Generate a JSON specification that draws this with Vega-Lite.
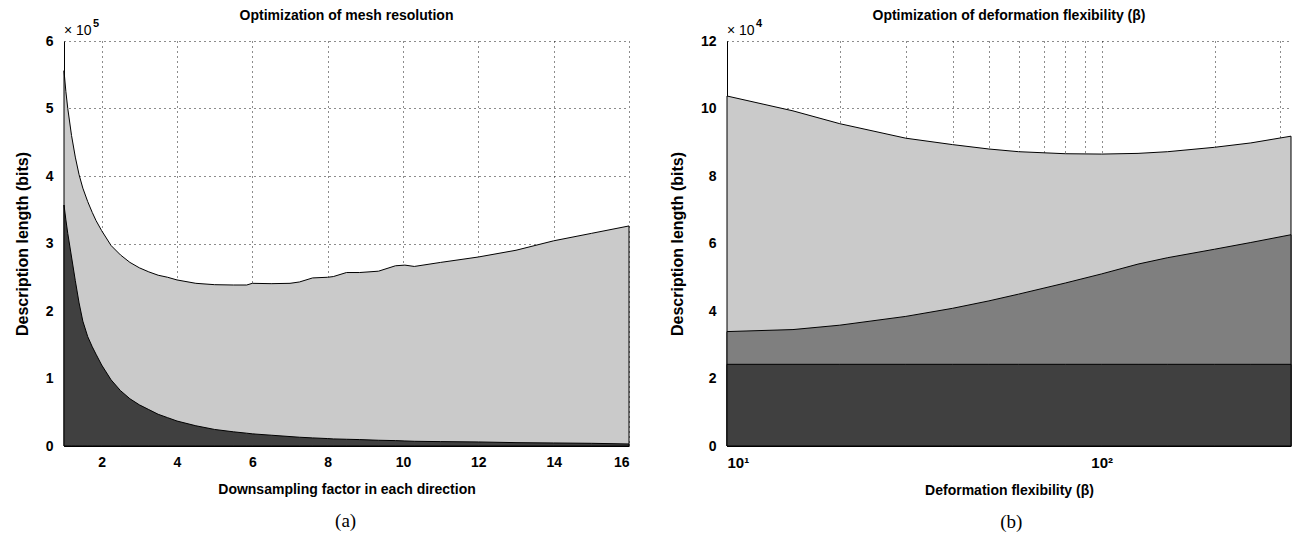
{
  "$schema": "https://vega.github.io/schema/vega-lite/v6.json",
  "padding": {"left": 14, "top": 9, "right": 0, "bottom": 0},
  "background": "white",
  "spacing": 38,
  "config": {
    "view": {"stroke": null},
    "axis": {
      "domainColor": "#000", "domainWidth": 1, "ticks": false,
      "labelFont": "Liberation Sans", "labelFontSize": 14, "labelFontWeight": "bold", "labelColor": "#000",
      "titleFont": "Liberation Sans", "titleFontSize": 14, "titleFontWeight": "bold", "titleColor": "#000",
      "grid": true, "gridColor": "#000", "gridDash": [1, 4], "gridWidth": 1, "gridOpacity": 0.9
    },
    "axisX": {"labelPadding": 9, "titlePadding": 13},
    "axisY": {"labelPadding": 11, "titlePadding": 15, "titleFontSize": 16},
    "title": {"font": "Liberation Sans", "fontSize": 14, "fontWeight": "bold", "color": "#000"}
  },
  "datasets": {
    "mesh": [
      {"factor": 1, "total": 556000, "lower": 357000},
      {"factor": 1.05, "total": 525000, "lower": 335000},
      {"factor": 1.1, "total": 500000, "lower": 315000},
      {"factor": 1.2, "total": 460000, "lower": 280000},
      {"factor": 1.3, "total": 428000, "lower": 245000},
      {"factor": 1.4, "total": 402000, "lower": 212000},
      {"factor": 1.5, "total": 382000, "lower": 185000},
      {"factor": 1.63, "total": 362000, "lower": 162000},
      {"factor": 1.75, "total": 346000, "lower": 147000},
      {"factor": 1.85, "total": 334000, "lower": 136000},
      {"factor": 2.0, "total": 319000, "lower": 120000},
      {"factor": 2.25, "total": 297000, "lower": 98000},
      {"factor": 2.5, "total": 283000, "lower": 82000},
      {"factor": 2.75, "total": 272000, "lower": 70000},
      {"factor": 3.0, "total": 264000, "lower": 61000},
      {"factor": 3.25, "total": 258000, "lower": 54000},
      {"factor": 3.5, "total": 253000, "lower": 47000},
      {"factor": 3.75, "total": 250000, "lower": 42000},
      {"factor": 4.0, "total": 246000, "lower": 37000},
      {"factor": 4.5, "total": 241000, "lower": 30000},
      {"factor": 5.0, "total": 239000, "lower": 24500},
      {"factor": 5.5, "total": 238500, "lower": 21000},
      {"factor": 5.85, "total": 238500, "lower": 19000},
      {"factor": 6.0, "total": 241000, "lower": 18000},
      {"factor": 6.5, "total": 240500, "lower": 16000},
      {"factor": 7.0, "total": 241000, "lower": 14000},
      {"factor": 7.25, "total": 243000, "lower": 13000},
      {"factor": 7.6, "total": 249000, "lower": 12000},
      {"factor": 8.0, "total": 250000, "lower": 11000},
      {"factor": 8.15, "total": 251000, "lower": 10500},
      {"factor": 8.5, "total": 257000, "lower": 10000},
      {"factor": 8.85, "total": 257000, "lower": 9500},
      {"factor": 9.35, "total": 259000, "lower": 8500},
      {"factor": 9.8, "total": 267000, "lower": 8000},
      {"factor": 10.05, "total": 268000, "lower": 7500},
      {"factor": 10.3, "total": 266000, "lower": 7000},
      {"factor": 11, "total": 272000, "lower": 6500},
      {"factor": 12, "total": 280000, "lower": 6000},
      {"factor": 13, "total": 290000, "lower": 5000},
      {"factor": 14, "total": 304000, "lower": 4500},
      {"factor": 15, "total": 315000, "lower": 4000},
      {"factor": 16, "total": 326000, "lower": 3000}
    ],
    "beta": [
      {"beta": 10, "total": 103700, "middle": 33900, "base": 24200},
      {"beta": 15, "total": 99300, "middle": 34500, "base": 24200},
      {"beta": 20, "total": 95500, "middle": 35800, "base": 24200},
      {"beta": 30, "total": 91200, "middle": 38400, "base": 24200},
      {"beta": 40, "total": 89300, "middle": 40800, "base": 24200},
      {"beta": 50, "total": 88000, "middle": 43000, "base": 24200},
      {"beta": 60, "total": 87200, "middle": 45000, "base": 24200},
      {"beta": 80, "total": 86600, "middle": 48300, "base": 24200},
      {"beta": 100, "total": 86500, "middle": 51000, "base": 24200},
      {"beta": 125, "total": 86700, "middle": 53900, "base": 24200},
      {"beta": 150, "total": 87200, "middle": 55800, "base": 24200},
      {"beta": 200, "total": 88500, "middle": 58300, "base": 24200},
      {"beta": 250, "total": 89800, "middle": 60300, "base": 24200},
      {"beta": 320, "total": 91800, "middle": 62600, "base": 24200}
    ],
    "meshNote": [{"factor": 1, "total": 600000, "label": "× 10", "exp": "5"}],
    "betaNote": [{"beta": 10, "total": 120000, "label": "× 10", "exp": "4"}]
  },
  "hconcat": [
    {
      "title": {"text": "(a)", "orient": "bottom", "anchor": "middle", "dx": 23, "font": "Liberation Serif", "fontSize": 19, "fontWeight": "normal", "offset": 16},
      "vconcat": [
        {
          "title": {"text": "Optimization of mesh resolution", "frame": "group", "offset": -5},
          "width": 565,
          "height": 405,
          "data": {"name": "mesh"},
          "layer": [
            {
              "mark": {"type": "area", "fill": "#cacaca", "stroke": "#000", "strokeWidth": 1},
              "encoding": {
                "x": {"field": "factor", "type": "quantitative", "scale": {"domain": [1, 16], "nice": false},
                      "axis": {"values": [2, 4, 6, 8, 10, 12, 14, 16], "title": "Downsampling factor in each direction"}},
                "y": {"field": "total", "type": "quantitative", "scale": {"domain": [0, 600000], "nice": false},
                      "axis": {"values": [0, 100000, 200000, 300000, 400000, 500000, 600000], "labelExpr": "datum.value/100000", "title": "Description length (bits)"}}
              }
            },
            {
              "mark": {"type": "area", "fill": "#404040", "stroke": "#000", "strokeWidth": 1},
              "encoding": {
                "x": {"field": "factor", "type": "quantitative", "title": "Downsampling factor in each direction"},
                "y": {"field": "lower", "type": "quantitative", "title": "Description length (bits)"}
              }
            },
            {
              "data": {"name": "meshNote"},
              "mark": {"type": "text", "align": "left", "baseline": "bottom", "dy": -3, "font": "Liberation Sans", "fontSize": 14, "color": "#000"},
              "encoding": {
                "x": {"field": "factor", "type": "quantitative", "title": "Downsampling factor in each direction"},
                "y": {"field": "total", "type": "quantitative", "title": "Description length (bits)"},
                "text": {"field": "label"}
              }
            },
            {
              "data": {"name": "meshNote"},
              "mark": {"type": "text", "align": "left", "baseline": "bottom", "dx": 29, "dy": -12, "font": "Liberation Sans", "fontSize": 11, "fontWeight": "bold", "color": "#000"},
              "encoding": {
                "x": {"field": "factor", "type": "quantitative", "title": "Downsampling factor in each direction"},
                "y": {"field": "total", "type": "quantitative", "title": "Description length (bits)"},
                "text": {"field": "exp"}
              }
            }
          ]
        }
      ]
    },
    {
      "title": {"text": "(b)", "orient": "bottom", "anchor": "middle", "dx": 30, "font": "Liberation Serif", "fontSize": 19, "fontWeight": "normal", "offset": 16},
      "vconcat": [
        {
          "title": {"text": "Optimization of deformation flexibility (β)", "frame": "group", "offset": -5},
          "width": 564,
          "height": 405,
          "data": {"name": "beta"},
          "layer": [
            {
              "mark": {"type": "area", "fill": "#cacaca", "stroke": "#000", "strokeWidth": 1},
              "encoding": {
                "x": {"field": "beta", "type": "quantitative", "scale": {"type": "log", "domain": [10, 320], "nice": false},
                      "axis": {"values": [10, 20, 30, 40, 50, 60, 70, 80, 90, 100, 200, 300], "labelExpr": "datum.value == 10 ? '10¹' : datum.value == 100 ? '10²' : ''", "labelFontSize": 15, "title": "Deformation flexibility (β)"}},
                "y": {"field": "total", "type": "quantitative", "scale": {"domain": [0, 120000], "nice": false},
                      "axis": {"values": [0, 20000, 40000, 60000, 80000, 100000, 120000], "labelExpr": "datum.value/10000", "title": "Description length (bits)"}}
              }
            },
            {
              "mark": {"type": "area", "fill": "#7f7f7f", "stroke": "#000", "strokeWidth": 1},
              "encoding": {
                "x": {"field": "beta", "type": "quantitative", "title": "Deformation flexibility (β)"},
                "y": {"field": "middle", "type": "quantitative", "title": "Description length (bits)"}
              }
            },
            {
              "mark": {"type": "area", "fill": "#404040", "stroke": "#000", "strokeWidth": 1},
              "encoding": {
                "x": {"field": "beta", "type": "quantitative", "title": "Deformation flexibility (β)"},
                "y": {"field": "base", "type": "quantitative", "title": "Description length (bits)"}
              }
            },
            {
              "data": {"name": "betaNote"},
              "mark": {"type": "text", "align": "left", "baseline": "bottom", "dy": -3, "font": "Liberation Sans", "fontSize": 14, "color": "#000"},
              "encoding": {
                "x": {"field": "beta", "type": "quantitative", "title": "Deformation flexibility (β)"},
                "y": {"field": "total", "type": "quantitative", "title": "Description length (bits)"},
                "text": {"field": "label"}
              }
            },
            {
              "data": {"name": "betaNote"},
              "mark": {"type": "text", "align": "left", "baseline": "bottom", "dx": 29, "dy": -12, "font": "Liberation Sans", "fontSize": 11, "fontWeight": "bold", "color": "#000"},
              "encoding": {
                "x": {"field": "beta", "type": "quantitative", "title": "Deformation flexibility (β)"},
                "y": {"field": "total", "type": "quantitative", "title": "Description length (bits)"},
                "text": {"field": "exp"}
              }
            }
          ]
        }
      ]
    }
  ]
}
